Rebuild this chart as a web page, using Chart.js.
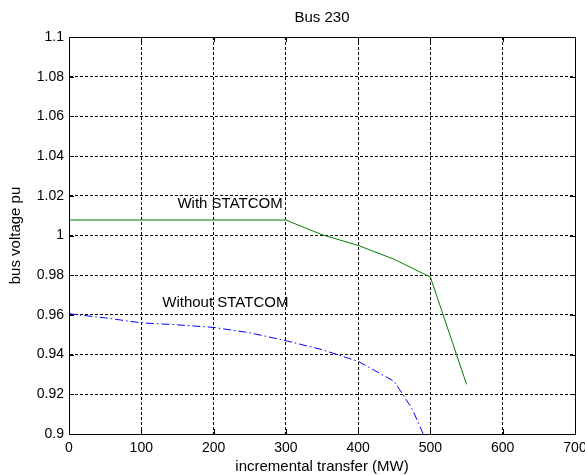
<!DOCTYPE html>
<html>
<head>
<meta charset="utf-8">
<title>Bus 230</title>
<script src="https://cdn.jsdelivr.net/npm/chart.js@4/dist/chart.umd.min.js"></script>
<style>
  html, body { margin: 0; padding: 0; background: #fff; }
  canvas { display: block; }
</style>
</head>
<body>
<canvas id="c" width="585" height="475"></canvas>
<script>
// Incremental transfer (MW) and bus voltage (pu) at Bus 230
const transferWith = [0, 300, 350, 400, 450, 500, 550];
const voltageWith  = [1.0078, 1.0078, 1.0004, 0.995, 0.988, 0.979, 0.925];

const transferWithout = [0, 50, 100, 150, 200, 250, 300, 350, 400, 450, 475, 490];
const voltageWithout  = [0.9606, 0.9585, 0.956, 0.955, 0.9537, 0.951, 0.947, 0.9425, 0.9366, 0.9265, 0.9125, 0.900];

const xTickValues = [0, 100, 200, 300, 400, 500, 600, 700];
const xTickLabels = ['0', '100', '200', '300', '400', '500', '600', '700'];
const yTickValues = [0.9, 0.92, 0.94, 0.96, 0.98, 1.0, 1.02, 1.04, 1.06, 1.08, 1.1];
const yTickLabels = ['0.9', '0.92', '0.94', '0.96', '0.98', '1', '1.02', '1.04', '1.06', '1.08', '1.1'];

const titleText = 'Bus 230';
const xTitle = 'incremental transfer (MW)';
const yTitle = 'bus voltage pu';
// curve captions, anchored in data units (left edge, vertical middle)
const captions = [
  { text: 'With STATCOM', x: 150, y: 1.016 },
  { text: 'Without STATCOM', x: 129, y: 0.966 }
];

const FONT = '"Liberation Sans", Arial, Helvetica, sans-serif';

const toPoints = (xs, ys) => xs.map((x, i) => ({ x: x, y: ys[i] }));

// frame, inward tick marks and all free text
const decorations = {
  id: 'decorations',
  afterDraw(chart) {
    const { ctx, chartArea: a, scales: { x, y } } = chart;
    ctx.save();
    ctx.strokeStyle = '#000';
    ctx.lineWidth = 1;
    ctx.setLineDash([]);
    ctx.strokeRect(Math.round(a.left) + 0.5, Math.round(a.top) + 0.5,
                   Math.round(a.right - a.left), Math.round(a.bottom - a.top));
    const tl = 5;
    ctx.beginPath();
    xTickValues.forEach(v => {
      const px = Math.round(x.getPixelForValue(v)) + 0.5;
      ctx.moveTo(px, a.bottom); ctx.lineTo(px, a.bottom - tl);
      ctx.moveTo(px, a.top); ctx.lineTo(px, a.top + tl);
    });
    yTickValues.forEach(v => {
      const py = Math.round(y.getPixelForValue(v)) + 0.5;
      ctx.moveTo(a.left, py); ctx.lineTo(a.left + tl, py);
      ctx.moveTo(a.right, py); ctx.lineTo(a.right - tl, py);
    });
    ctx.stroke();

    ctx.fillStyle = '#000';
    ctx.font = '15px ' + FONT;
    ctx.textBaseline = 'middle';
    ctx.textAlign = 'center';
    const cx = (a.left + a.right) / 2;
    ctx.fillText(titleText, cx, 18);
    ctx.fillText(xTitle, cx, 467);
    ctx.save();
    ctx.translate(16, (a.top + a.bottom) / 2);
    ctx.rotate(-Math.PI / 2);
    ctx.fillText(yTitle, 0, 0);
    ctx.restore();

    ctx.textAlign = 'left';
    captions.forEach(c => {
      ctx.fillText(c.text, x.getPixelForValue(c.x), y.getPixelForValue(c.y));
    });
    ctx.restore();
  }
};

new Chart(document.getElementById('c'), {
  type: 'line',
  data: {
    datasets: [
      {
        label: 'With STATCOM',
        data: toPoints(transferWith, voltageWith),
        borderColor: '#008000',
        borderWidth: 1,
        pointRadius: 0,
        tension: 0,
        fill: false
      },
      {
        label: 'Without STATCOM',
        data: toPoints(transferWithout, voltageWithout),
        borderColor: '#0000ff',
        borderWidth: 1,
        borderDash: [8, 3, 1.5, 3],
        pointRadius: 0,
        tension: 0,
        fill: false
      }
    ]
  },
  options: {
    responsive: false,
    animation: false,
    devicePixelRatio: 1,
    layout: { padding: { left: 0, top: 37, right: 10, bottom: 0 } },
    plugins: {
      legend: { display: false },
      title: { display: false },
      tooltip: { enabled: false }
    },
    scales: {
      x: {
        type: 'linear',
        min: 0, max: 700,
        afterBuildTicks: s => { s.ticks = xTickValues.map(v => ({ value: v })); },
        afterFit: s => { s.height = 41; s.paddingLeft = 0; s.paddingRight = 0; },
        ticks: {
          color: '#000',
          font: { family: FONT, size: 14 },
          padding: 6,
          maxRotation: 0,
          autoSkip: false,
          callback: (v, i) => xTickLabels[i]
        },
        grid: { color: '#000', lineWidth: 1, drawTicks: false },
        border: { display: true, color: '#000', width: 1, dash: [3, 2] }
      },
      y: {
        type: 'linear',
        min: 0.9, max: 1.1,
        afterBuildTicks: s => { s.ticks = yTickValues.map(v => ({ value: v })); },
        afterFit: s => { s.width = 69; s.paddingTop = 0; s.paddingBottom = 0; },
        ticks: {
          color: '#000',
          font: { family: FONT, size: 14 },
          padding: 5,
          autoSkip: false,
          callback: (v, i) => yTickLabels[i]
        },
        grid: { color: '#000', lineWidth: 1, drawTicks: false },
        border: { display: true, color: '#000', width: 1, dash: [3, 2] }
      }
    }
  },
  plugins: [decorations]
});
</script>
</body>
</html>
